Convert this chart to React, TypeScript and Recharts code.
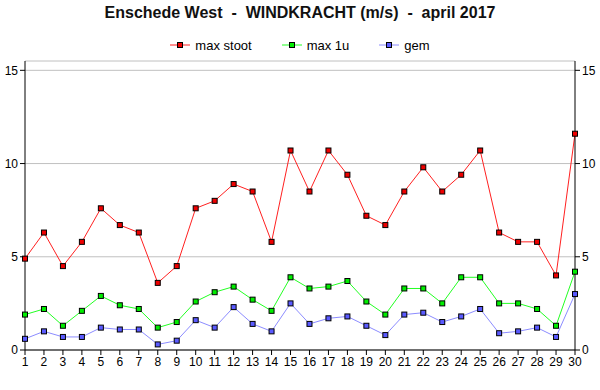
import { LineChart, Line, XAxis, YAxis, CartesianGrid, Legend } from 'recharts';

const days = [1, 2, 3, 4, 5, 6, 7, 8, 9, 10, 11, 12, 13, 14, 15, 16, 17, 18, 19, 20, 21, 22, 23, 24, 25, 26, 27, 28, 29, 30];
const maxStoot = [4.9, 6.3, 4.5, 5.8, 7.6, 6.7, 6.3, 3.6, 4.5, 7.6, 8.0, 8.9, 8.5, 5.8, 10.7, 8.5, 10.7, 9.4, 7.2, 6.7, 8.5, 9.8, 8.5, 9.4, 10.7, 6.3, 5.8, 5.8, 4.0, 11.6];
const max1u = [1.9, 2.2, 1.3, 2.1, 2.9, 2.4, 2.2, 1.2, 1.5, 2.6, 3.1, 3.4, 2.7, 2.1, 3.9, 3.3, 3.4, 3.7, 2.6, 1.9, 3.3, 3.3, 2.5, 3.9, 3.9, 2.5, 2.5, 2.2, 1.3, 4.2];
const gem = [0.6, 1.0, 0.7, 0.7, 1.2, 1.1, 1.1, 0.3, 0.5, 1.6, 1.2, 2.3, 1.4, 1.0, 2.5, 1.4, 1.7, 1.8, 1.3, 0.8, 1.9, 2.0, 1.5, 1.8, 2.2, 0.9, 1.0, 1.2, 0.7, 3.0];
const yTicks = [0, 5, 10, 15];

const data = days.map((day, i) => ({
  day,
  maxStoot: maxStoot[i],
  max1u: max1u[i],
  gem: gem[i],
}));

const series = [
  { key: 'maxStoot', name: 'max stoot', color: '#ff2020', fill: '#ee0000' },
  { key: 'max1u', name: 'max 1u', color: '#22ff22', fill: '#00ee00' },
  { key: 'gem', name: 'gem', color: '#8c8cff', fill: '#5a5aff' },
];

const FONT = '"Liberation Sans", Arial, sans-serif';

const squareDot = (fill: string) => (props: any) => {
  const { cx, cy, index } = props;
  if (cx == null || cy == null) return <g key={index} />;
  return (
    <rect
      key={index}
      x={cx - 2.5}
      y={cy - 2.5}
      width={5}
      height={5}
      fill={fill}
      stroke="#000"
      strokeWidth={1}
    />
  );
};

const LegendContent = () => (
  <div
    style={{
      height: 25,
      display: 'flex',
      justifyContent: 'center',
      alignItems: 'flex-start',
      fontFamily: FONT,
      fontSize: 13,
      color: '#000',
    }}
  >
    {series.map((s, i) => (
      <div key={s.key} style={{ display: 'flex', alignItems: 'center', marginLeft: i === 0 ? 0 : 30, height: 18 }}>
        <svg width={20} height={8} style={{ marginRight: 5 }}>
          <line x1={0} y1={4} x2={20} y2={4} stroke={s.color} strokeWidth={1} />
          <rect x={7.5} y={1.5} width={5} height={5} fill={s.fill} stroke="#000" strokeWidth={1} />
        </svg>
        <span>{s.name}</span>
      </div>
    ))}
  </div>
);

export default function App() {
  return (
    <div style={{ position: 'absolute', left: 0, top: 0, width: 600, height: 390, background: '#fff' }}>
      <div
        style={{
          position: 'absolute',
          top: 4,
          left: 0,
          width: 600,
          textAlign: 'center',
          fontFamily: FONT,
          fontWeight: 'bold',
          fontSize: 16,
          color: '#111',
        }}
      >
        Enschede West&nbsp; - &nbsp;WINDKRACHT (m/s)&nbsp; - &nbsp;april 2017
      </div>
      <LineChart
        width={600}
        height={390}
        data={data}
        margin={{ top: 36, right: 0, left: 0, bottom: 0 }}
        style={{ fontFamily: FONT }}
      >
        <CartesianGrid
          xAxisId="bottom"
          yAxisId="left"
          horizontal={true}
          vertical={false}
          stroke="#c0c0c0"
        />
        <XAxis
          xAxisId="bottom"
          dataKey="day"
          type="number"
          domain={[1, 30]}
          ticks={days}
          interval={0}
          height={40}
          tickSize={5}
          stroke="#000"
          tick={{ fontSize: 12, fill: '#000' }}
        />
        <XAxis
          xAxisId="top"
          orientation="top"
          type="number"
          domain={[1, 30]}
          tick={false}
          tickLine={false}
          height={0}
          stroke="#000"
        />
        <YAxis
          yAxisId="left"
          domain={[0, 15.5]}
          ticks={yTicks}
          width={25}
          tickSize={5}
          stroke="#000"
          allowDataOverflow
          tick={{ fontSize: 12, fill: '#000' }}
        />
        <YAxis
          yAxisId="right"
          orientation="right"
          domain={[0, 15.5]}
          ticks={yTicks}
          width={25}
          tickSize={5}
          stroke="#000"
          allowDataOverflow
          tick={{ fontSize: 12, fill: '#000' }}
        />
        <Legend
          verticalAlign="top"
          align="center"
          content={<LegendContent />}
          wrapperStyle={{ left: 0, width: 600 }}
        />
        {series.map((s) => (
          <Line
            key={s.key}
            xAxisId="bottom"
            yAxisId="left"
            type="linear"
            dataKey={s.key}
            name={s.name}
            stroke={s.color}
            strokeWidth={1}
            dot={squareDot(s.fill)}
            activeDot={false}
            isAnimationActive={false}
          />
        ))}
      </LineChart>
    </div>
  );
}
